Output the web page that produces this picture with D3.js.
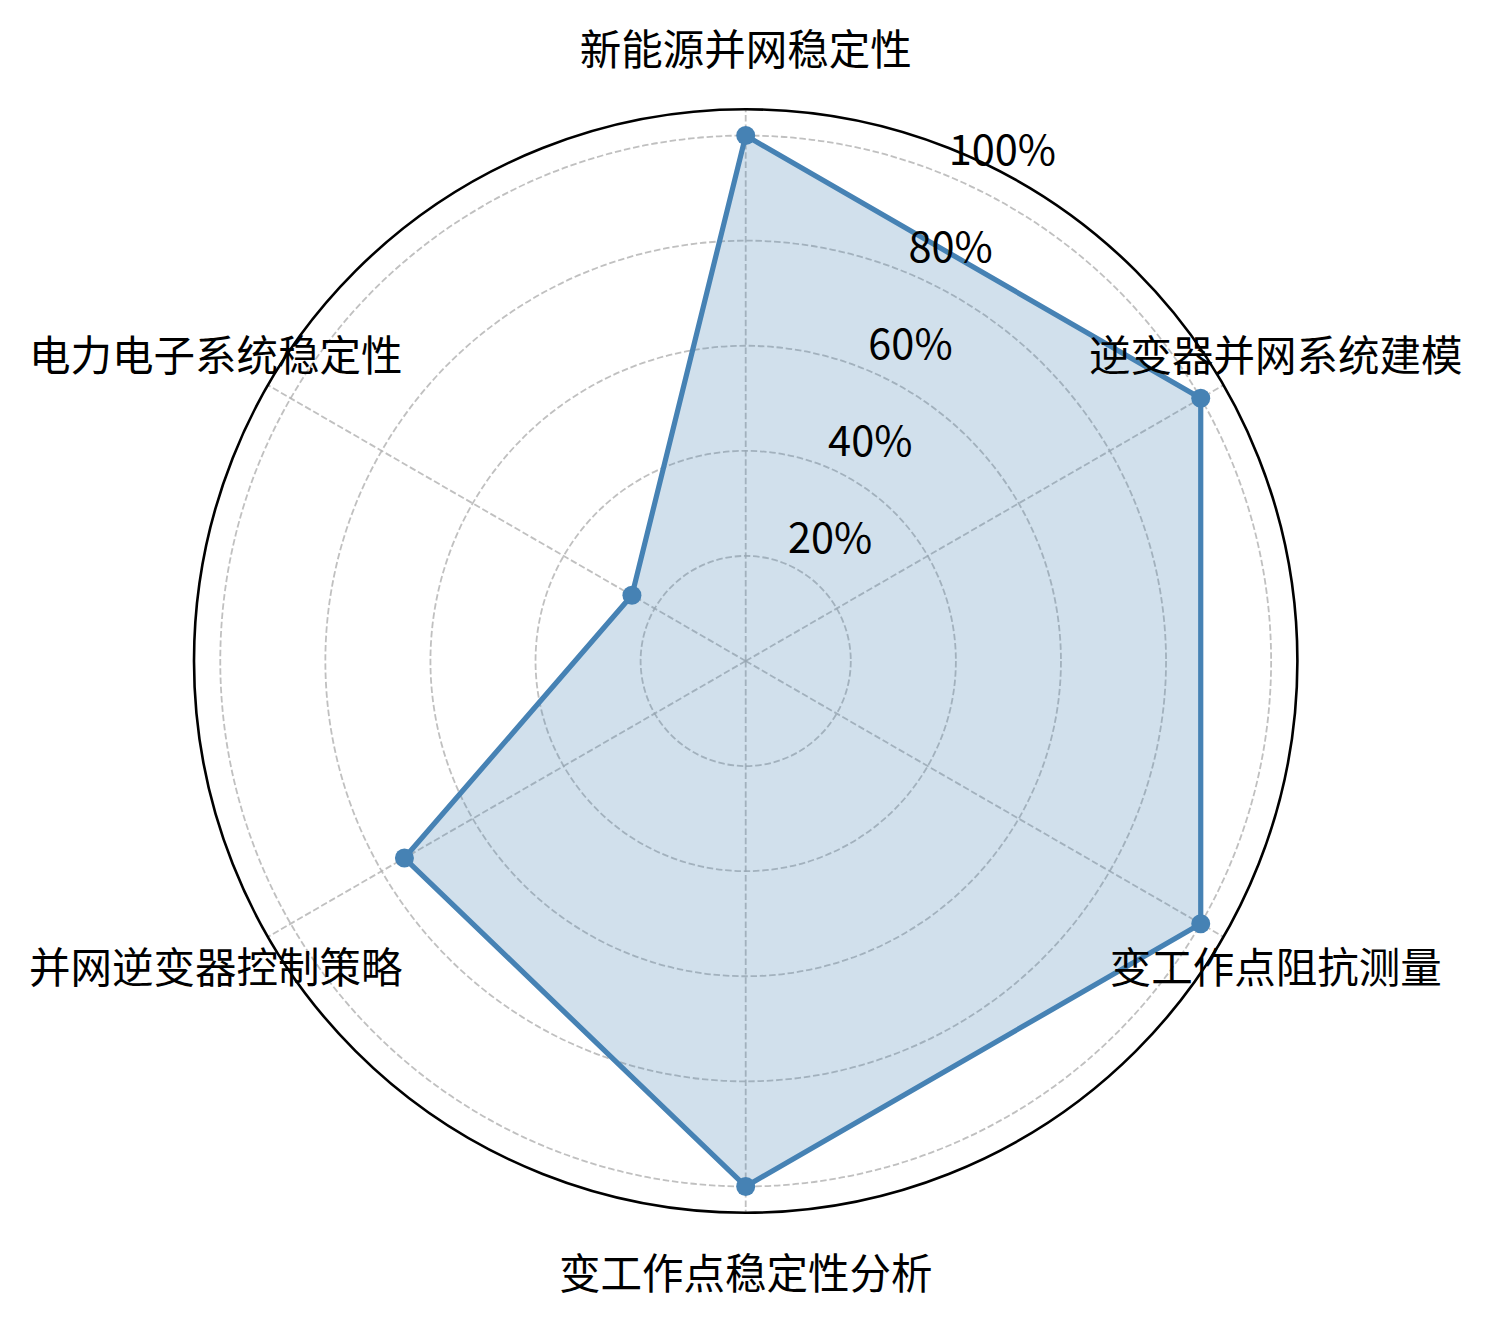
<!DOCTYPE html>
<html>
<head>
<meta charset="utf-8">
<script src="https://cdn.jsdelivr.net/npm/d3@7"></script>
<style>
  html, body { margin: 0; padding: 0; background: #ffffff; }
  svg { display: block; }
</style>
</head>
<body>
<div id="chart"></div>
<script>
// ---- data ----
const categories = ["新能源并网稳定性", "逆变器并网系统建模", "变工作点阻抗测量", "变工作点稳定性分析", "并网逆变器控制策略", "电力电子系统稳定性"];
const values = [100, 100, 100, 100, 75, 25];
const radialTicks = [20, 40, 60, 80, 100];
const radialTickLabels = ["20%", "40%", "60%", "80%", "100%"];

// ---- layout ----
const W = 1492, H = 1324;
const cx = 745.7, cy = 661;
const rMaxDomain = 105;
const outerR = 551.7;
const font = "'Noto Sans CJK SC', 'Noto Sans', sans-serif";
const fontSize = 41.5;
const color = "#4682b4";

const svg = d3.select("#chart").append("svg").attr("width", W).attr("height", H);
const g = svg.append("g").attr("transform", `translate(${cx},${cy})`);

const r = d3.scaleLinear().domain([0, rMaxDomain]).range([0, outerR]);
const angle = d3.scalePoint().domain(categories).range([0, 2 * Math.PI * (categories.length - 1) / categories.length]);

const px = (a, rr) => rr * Math.sin(a);
const py = (a, rr) => -rr * Math.cos(a);

// grid circles
g.selectAll("circle.grid").data(radialTicks).join("circle")
  .attr("class", "grid")
  .attr("r", d => r(d))
  .attr("fill", "none")
  .attr("stroke", "#b0b0b0").attr("stroke-opacity", 0.8)
  .attr("stroke-width", 1.8).attr("stroke-dasharray", "6.5,2.8");

// radial spokes
g.selectAll("line.spoke").data(categories).join("line")
  .attr("class", "spoke")
  .attr("x1", 0).attr("y1", 0)
  .attr("x2", d => px(angle(d), outerR)).attr("y2", d => py(angle(d), outerR))
  .attr("stroke", "#b0b0b0").attr("stroke-opacity", 0.8)
  .attr("stroke-width", 1.8).attr("stroke-dasharray", "6.5,2.8");

// data polygon
const radar = d3.lineRadial()
  .angle((d, i) => angle(categories[i]))
  .radius(d => r(d))
  .curve(d3.curveLinearClosed);

g.append("path").datum(values)
  .attr("d", radar)
  .attr("fill", color).attr("fill-opacity", 0.25)
  .attr("stroke", "none");

g.append("path").datum(values)
  .attr("d", radar)
  .attr("fill", "none")
  .attr("stroke", color).attr("stroke-width", 5.2)
  .attr("stroke-linejoin", "round");

g.selectAll("circle.pt").data(values).join("circle")
  .attr("class", "pt")
  .attr("cx", (d, i) => px(angle(categories[i]), r(d)))
  .attr("cy", (d, i) => py(angle(categories[i]), r(d)))
  .attr("r", 9.5)
  .attr("fill", color);

// outer spine
g.append("circle").attr("r", outerR).attr("fill", "none")
  .attr("stroke", "#000").attr("stroke-width", 2.6);

// radial tick labels at 22.5deg
const labA = 22.5 * Math.PI / 180;
g.selectAll("text.rtick").data(radialTicks).join("text")
  .attr("class", "rtick")
  .attr("x", d => px(labA, r(d)) + 2)
  .attr("y", d => py(labA, r(d)) - 10.5)
  .attr("text-anchor", "start")
  .attr("font-family", font).attr("font-size", fontSize)
  .attr("fill", "#000")
  .text((d, i) => radialTickLabels[i]);

// category labels
const labR = 612;
g.selectAll("text.cat").data(categories).join("text")
  .attr("class", "cat")
  .attr("x", d => px(angle(d), labR))
  .attr("y", d => py(angle(d), labR) - 2)
  .attr("text-anchor", "middle")
  .attr("dominant-baseline", "central")
  .attr("font-family", font).attr("font-size", fontSize)
  .attr("fill", "#000")
  .text(d => d);
</script>
</body>
</html>
